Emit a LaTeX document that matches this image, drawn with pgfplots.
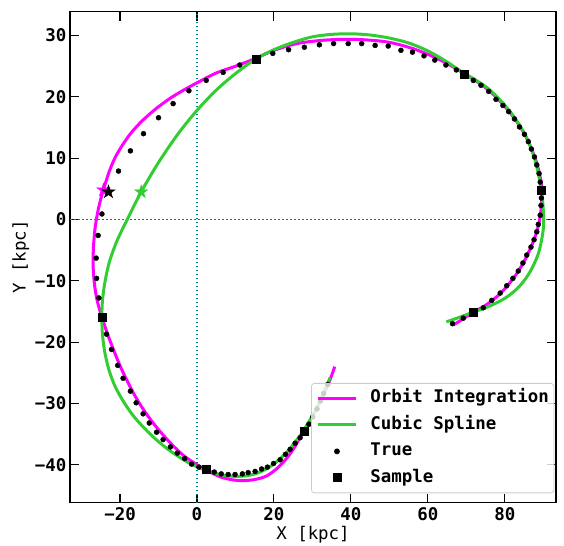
\documentclass[border=0pt]{standalone}
\usepackage{fontspec}
\setmainfont{DejaVu Sans Mono}
\usepackage{pgfplots}
\usepackage{pgfplotstable}
\pgfplotsset{compat=1.18}
\definecolor{mymag}{HTML}{FF00FF}
\definecolor{mygreen}{HTML}{32CD32}
\definecolor{myteal}{HTML}{008080}

\pgfdeclareplotmark{fstar}{%
  \pgfpathmoveto{\pgfpointpolar{90}{\pgfplotmarksize}}%
  \pgfpathlineto{\pgfpointpolar{126}{0.382\pgfplotmarksize}}%
  \pgfpathlineto{\pgfpointpolar{162}{\pgfplotmarksize}}%
  \pgfpathlineto{\pgfpointpolar{198}{0.382\pgfplotmarksize}}%
  \pgfpathlineto{\pgfpointpolar{234}{\pgfplotmarksize}}%
  \pgfpathlineto{\pgfpointpolar{270}{0.382\pgfplotmarksize}}%
  \pgfpathlineto{\pgfpointpolar{306}{\pgfplotmarksize}}%
  \pgfpathlineto{\pgfpointpolar{342}{0.382\pgfplotmarksize}}%
  \pgfpathlineto{\pgfpointpolar{18}{\pgfplotmarksize}}%
  \pgfpathlineto{\pgfpointpolar{54}{0.382\pgfplotmarksize}}%
  \pgfpathclose\pgfusepathqfillstroke}

\pgfplotstableread{
x y
66.6 -17.2
69.2 -16.2
71.8 -15.1
75.0 -14.0
78.8 -12.1
82.1 -9.7
84.7 -7.2
86.8 -4.5
88.4 -1.8
89.3 1.0
89.6 3.7
89.4 6.2
88.4 9.0
86.9 11.6
85.0 14.1
82.5 16.5
79.5 18.8
75.8 21.1
71.8 22.9
67.4 24.6
62.0 26.4
56.0 27.9
50.0 28.9
44.0 29.3
38.0 29.4
32.0 29.2
26.0 28.7
20.0 27.6
15.3 26.3
10.0 25.0
5.0 23.9
0.0 22.3
-3.5 21.1
-6.9 19.8
-10.4 18.2
-13.9 16.3
-16.9 14.3
-19.1 12.4
-21.2 10.2
-22.7 8.0
-23.8 5.9
-24.9 3.6
-25.8 1.2
-26.5 -1.5
-26.9 -4.5
-27.0 -7.5
-26.6 -10.8
-25.8 -13.6
-24.7 -15.9
-23.3 -18.6
-21.6 -21.4
-19.9 -24.0
-18.0 -26.5
-16.0 -28.9
-13.5 -31.4
-10.5 -33.9
-7.0 -36.4
-3.5 -38.5
0.0 -40.0
2.4 -40.9
6.1 -42.0
9.5 -42.5
12.1 -42.6
15.2 -42.4
18.2 -41.8
21.0 -40.5
23.5 -38.8
25.5 -37.0
27.1 -35.2
28.5 -33.7
30.0 -32.1
31.6 -30.2
33.2 -28.1
34.6 -26.1
35.8 -24.0
}\orbit

\pgfplotstableread{
x y
64.8 -16.7
68.0 -16.0
71.8 -15.1
75.0 -14.4
78.8 -13.3
81.5 -12.2
83.8 -10.9
85.9 -9.2
87.5 -7.4
88.8 -5.4
89.6 -3.2
90.1 -0.9
90.0 1.4
89.8 3.2
89.4 4.7
88.8 7.2
87.6 10.2
85.6 13.4
83.0 16.2
79.8 18.8
75.8 21.3
71.8 23.0
69.4 23.8
65.0 25.7
60.0 27.5
55.0 28.8
50.0 29.6
45.0 30.1
40.0 30.3
35.0 30.2
30.0 29.8
25.0 28.9
20.0 27.7
15.3 26.2
10.0 23.8
5.0 21.1
0.0 17.8
-5.0 13.9
-10.0 9.3
-14.5 4.5
-18.2 -0.1
-20.8 -3.5
-22.8 -7.0
-24.0 -10.5
-24.6 -13.5
-24.7 -15.9
-24.6 -18.5
-24.0 -21.5
-22.9 -24.5
-21.3 -27.2
-19.2 -29.6
-16.7 -31.9
-13.9 -33.9
-10.8 -35.8
-7.5 -37.5
-4.0 -39.0
-0.9 -40.1
2.4 -40.9
6.0 -41.6
9.5 -41.9
13.0 -41.8
16.0 -41.3
18.8 -40.4
21.3 -39.2
23.6 -37.8
25.5 -36.3
27.1 -35.0
28.5 -33.6
30.3 -31.7
31.8 -29.8
33.2 -27.8
34.6 -25.8
}\spline

\pgfplotstableread{
x y
66.4 -17.0
69.2 -16.1
71.8 -15.1
74.4 -14.4
76.6 -13.2
78.8 -12.0
80.5 -10.8
82.1 -9.6
83.5 -8.4
84.7 -7.1
85.7 -5.8
86.8 -4.5
87.6 -3.3
88.3 -2.0
88.7 -0.8
89.2 0.7
89.4 2.3
89.5 3.5
89.4 4.7
89.2 6.1
88.9 7.5
88.3 8.9
87.7 10.2
86.9 11.5
86.1 12.7
85.1 13.9
83.8 15.1
82.5 16.4
81.0 17.6
79.5 18.6
77.7 19.6
75.8 20.9
73.8 21.9
71.8 22.7
69.4 23.7
67.4 24.4
64.7 25.2
61.8 26.0
59.0 26.7
56.0 27.3
53.0 27.6
49.7 28.3
46.3 28.4
42.8 28.7
39.3 28.7
35.5 28.7
31.8 28.5
27.9 28.1
23.8 27.7
19.7 27.1
15.3 26.2
11.1 25.2
6.8 24.0
2.4 22.7
-2.1 21.0
-6.2 18.9
-10.0 16.6
-13.9 14.0
-17.3 11.2
-20.4 7.9
-22.9 4.4
-24.7 0.9
-25.7 -2.6
-26.2 -6.3
-26.1 -9.6
-25.5 -12.8
-24.7 -15.9
-23.5 -18.7
-22.2 -21.2
-20.6 -23.8
-19.2 -25.9
-17.3 -28.0
-15.8 -29.9
-14.0 -31.7
-12.4 -33.2
-10.5 -34.7
-8.8 -35.9
-6.9 -37.1
-5.1 -38.1
-3.2 -39.0
-1.4 -39.9
0.5 -40.4
2.4 -40.8
4.5 -41.2
6.3 -41.5
8.1 -41.6
9.9 -41.6
11.8 -41.5
13.3 -41.3
15.1 -41.1
16.8 -40.7
18.3 -40.4
19.9 -39.8
21.6 -39.2
23.0 -38.3
24.2 -37.5
25.5 -36.5
26.8 -35.6
27.9 -34.6
29.1 -33.4
30.1 -32.2
31.2 -30.9
32.1 -29.6
32.9 -28.4
34.0 -26.9
}\truepts

\pgfplotstableread{
x y
15.3 26.2
69.4 23.7
89.4 4.7
71.8 -15.1
-24.7 -15.9
2.4 -40.8
27.9 -34.6
}\samples

\begin{document}
\fontsize{17.5}{21}\selectfont
\begin{tikzpicture}
\begin{axis}[
  scale only axis, width=486bp, height=491bp,
  xmin=-33, xmax=93.3, ymin=-46.2, ymax=33.9,
  axis line style={line width=1.1bp},
  tick align=inside, major tick length=9bp,
  tick style={black, line width=1.1bp},
  xtick={-20,0,20,40,60,80}, ytick={-40,-30,-20,-10,0,10,20,30},
  xticklabels={−20,0,20,40,60,80},
  yticklabels={−40,−30,−20,−10,0,10,20,30},
  ticklabel style={font=\bfseries\fontsize{17.5}{21}\selectfont},
  yticklabel style={inner sep=3.5bp},
  xticklabel style={inner sep=5bp},
  label style={font=\fontsize{17.5}{21}\selectfont},
  xlabel={X [kpc]}, ylabel={Y [kpc]},
  xlabel style={yshift=6bp},
  ylabel style={yshift=-4bp},
  legend cell align=left,
  legend image code/.code={\draw[opacity=1,mark repeat=2,mark phase=2,#1] plot coordinates {(0bp,0bp) (19bp,0bp) (38bp,0bp)};},
  legend style={at={(0.496,0.2438)}, anchor=north west,
    fill=white, fill opacity=0.8, draw opacity=1, text opacity=1,
    draw=black!20, rounded corners=3bp, line width=0.8bp,
    font=\bfseries\fontsize{17.5}{21}\selectfont,
    inner xsep=5bp, inner ysep=7bp, row sep=10.5bp,
    nodes={inner sep=0pt, text height=12.5bp, text depth=3.5bp},
    /tikz/every odd column/.append style={column sep=13bp}},
]
\addplot[myteal, line width=1.7bp, dash pattern=on 1.7bp off 2.3bp, forget plot] coordinates {(0,-60) (0,60)};
\addplot[myteal, line width=1.7bp, dash pattern=on 1.7bp off 2.3bp, forget plot] coordinates {(-60,0) (120,0)};
\addplot[mymag, line width=3bp, smooth, tension=0.5, no marks] table {\orbit};
\addlegendentry{Orbit Integration}
\addplot[mygreen, line width=3bp, smooth, tension=0.5, no marks] table {\spline};
\addlegendentry{Cubic Spline}
\addplot[only marks, mark=*, mark size=2.5bp, black] table {\truepts};
\addlegendentry{True}
\addplot[only marks, mark=square*, mark size=4bp, black] table {\samples};
\addlegendentry{Sample}
\addplot[only marks, mark=fstar, mark size=7bp, mymag, forget plot] coordinates {(-24.3,4.8)};
\addplot[only marks, mark=fstar, mark size=7bp, black, forget plot] coordinates {(-23.0,4.5)};
\addplot[only marks, mark=fstar, mark size=7bp, mygreen, forget plot] coordinates {(-14.5,4.5)};
\end{axis}
\pgfresetboundingbox
\path[use as bounding box] ([xshift=-70bp,yshift=-43.3bp]current axis.south west) rectangle ([xshift=8bp,yshift=11.7bp]current axis.north east);
\end{tikzpicture}
\end{document}
